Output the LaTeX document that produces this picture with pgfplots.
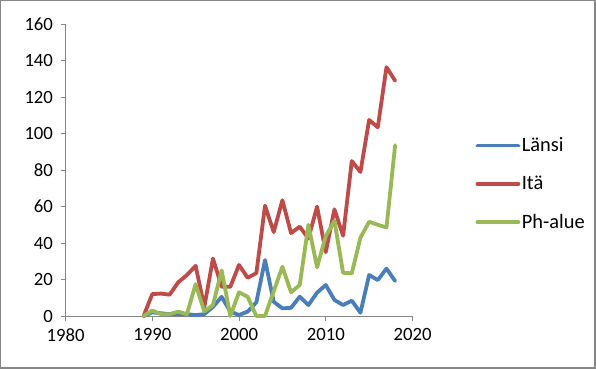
\documentclass[border=0pt]{standalone}
\usepackage{pgfplots}
\pgfplotsset{compat=1.18}
\usepackage{fontspec}
\setmainfont{Carlito}
\definecolor{cblue}{HTML}{4A7EBB}
\definecolor{cred}{HTML}{BE4B48}
\definecolor{cgreen}{HTML}{98B954}
\definecolor{cgray}{HTML}{868686}
\begin{document}
\begin{tikzpicture}
\fill[cgray] (0bp,0bp) rectangle (596bp,369bp);
\fill[white] (1.2bp,2.4bp) rectangle (594bp,367.8bp);
\begin{axis}[
  at={(65.5bp,53bp)}, anchor=south west,
  scale only axis, width=347bp, height=291.7bp,
  xmin=1980, xmax=2020, ymin=0, ymax=160,
  xtick={1980,1990,...,2020}, ytick={0,20,...,160},
  axis lines=left, axis line style={cgray, line width=0.8bp, -},
  tick style={cgray, line width=0.8bp}, tick align=outside, major tick length=5bp,
  /pgf/number format/1000 sep={}, /pgf/number format/assume math mode=true,
  tick label style={font=\fontsize{18.8}{20}\selectfont, black},
  xticklabel style={yshift=-4bp},
  yticklabel style={xshift=-4bp},
  clip=false,
  legend cell align=left,
  legend style={draw=none, fill=none, at={(rel axis cs:1.181,0.453)}, anchor=west,
    font=\fontsize{20.5}{22}\selectfont, row sep=20bp, inner sep=0pt,
    nodes={inner sep=1.5bp}},
  legend image code/.code={\draw[#1] (0bp,0bp) -- (41bp,0bp);},
  every axis plot/.append style={line width=3.8bp, line join=round, line cap=round},
]
\addplot[cblue] coordinates {
(1989,0) (1990,2) (1991,1.5) (1992,1) (1993,1) (1994,1) (1995,0.5) (1996,1) (1997,5) (1998,10.5)
(1999,2.4) (2000,0.5) (2001,2.4) (2002,7.5) (2003,30.7) (2004,7.8) (2005,4.2) (2006,4.5) (2007,10.6) (2008,6)
(2009,12.8) (2010,17) (2011,8.8) (2012,6) (2013,8.4) (2014,1.8) (2015,22.5) (2016,19.7) (2017,26) (2018,19.2)};
\addlegendentry{Länsi}
\addplot[cred] coordinates {
(1989,0) (1990,12) (1991,12.3) (1992,11.7) (1993,18.5) (1994,22.5) (1995,27.5) (1996,5) (1997,31.5) (1998,16)
(1999,16) (2000,28) (2001,21) (2002,23.5) (2003,60.5) (2004,46) (2005,63.5) (2006,45.5) (2007,49) (2008,42.5)
(2009,60) (2010,35) (2011,58.5) (2012,44) (2013,85) (2014,79) (2015,107.5) (2016,103.5) (2017,136.5) (2018,129)};
\addlegendentry{Itä}
\addplot[cgreen] coordinates {
(1989,0) (1990,3) (1991,1) (1992,1) (1993,2.4) (1994,1) (1995,17.5) (1996,2.5) (1997,6) (1998,25)
(1999,0) (2000,13) (2001,10.5) (2002,0) (2003,0) (2004,13.5) (2005,27) (2006,13) (2007,17) (2008,50)
(2009,26.7) (2010,43.8) (2011,52.2) (2012,23.7) (2013,23.4) (2014,43) (2015,51.7) (2016,50) (2017,48.6) (2018,93.7)};
\addlegendentry{Ph-alue}
\end{axis}
\end{tikzpicture}
\end{document}
